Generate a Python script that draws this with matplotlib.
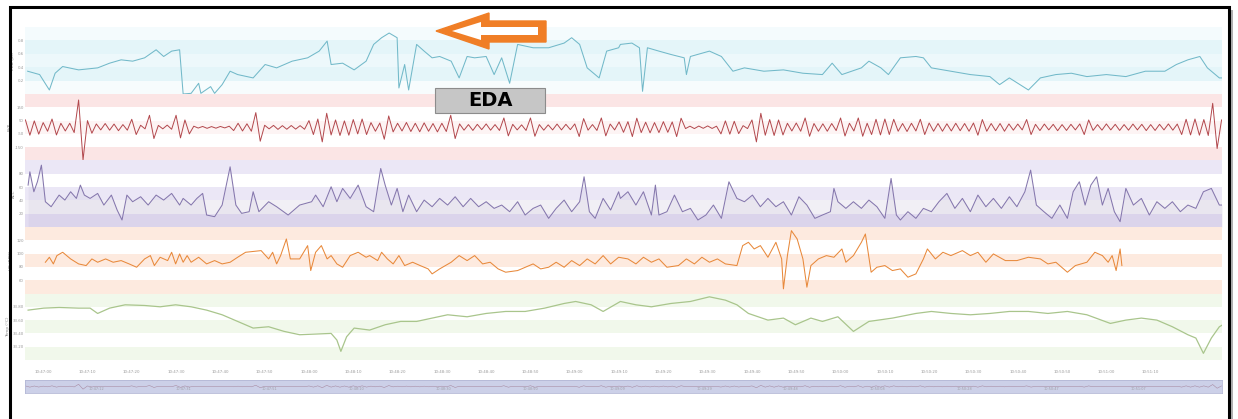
import numpy as np
import matplotlib.pyplot as plt
from matplotlib.patches import Rectangle, Polygon

W, H = 1238, 419

# ---------------- data ----------------
# EDA (uS)
eda_t = [6.5, 9.2, 11.4, 12.7, 14.4, 18.0, 22.3, 25.0, 27.6, 30.2, 32.9, 35.5, 37.2, 39.0, 40.8,
         41.6, 43.4, 45.1, 45.6, 47.8, 48.7, 50.4, 52.2, 53.9, 57.4, 60.1, 62.7, 66.2, 69.7, 72.3,
         74.1, 75.0, 77.6, 80.2, 82.9, 84.6, 86.4, 88.1, 89.9, 90.3, 91.6, 92.5, 94.3, 96.0, 97.8,
         99.5, 102.1, 103.9, 105.7, 107.4, 110.0, 111.8, 113.5, 115.3, 117.1, 120.6, 124.1, 127.6,
         129.3, 131.1, 132.8, 135.5, 137.2, 139.9, 140.3, 142.9, 144.6, 145.3, 146.4, 149.0, 151.7,
         154.7, 155.2, 156.1, 160.4, 163.1, 165.7, 168.3, 172.7, 177.1, 181.5, 185.9, 188.1, 190.3,
         194.7, 196.4, 199.1, 200.8, 203.5, 207.0, 208.7, 210.5, 214.9, 219.3, 223.7, 225.9, 228.1,
         232.4, 235.1, 238.6, 242.1, 245.6, 250.0, 254.4, 258.8, 263.2, 265.8, 268.4, 271.1, 272.8,
         275.5, 276.8]
eda = [0.34, 0.29, 0.06, 0.31, 0.41, 0.36, 0.39, 0.46, 0.51, 0.49, 0.54, 0.66, 0.56, 0.64, 0.66,
       0.0, 0.01, 0.16, 0.01, 0.11, 0.01, 0.14, 0.34, 0.29, 0.24, 0.44, 0.39, 0.49, 0.54, 0.64,
       0.79, 0.44, 0.46, 0.36, 0.49, 0.74, 0.84, 0.91, 0.84, 0.09, 0.44, 0.06, 0.74, 0.64, 0.54,
       0.56, 0.49, 0.24, 0.56, 0.54, 0.56, 0.29, 0.54, 0.16, 0.74, 0.69, 0.69, 0.76,
       0.84, 0.74, 0.39, 0.24, 0.64, 0.69, 0.74, 0.76, 0.69, 0.04, 0.69, 0.64, 0.59,
       0.54, 0.29, 0.56, 0.64, 0.56, 0.34, 0.39, 0.34, 0.36, 0.31, 0.29, 0.46, 0.29,
       0.39, 0.49, 0.39, 0.29, 0.54, 0.56, 0.54, 0.39, 0.34, 0.29, 0.26, 0.14, 0.24,
       0.06, 0.24, 0.29, 0.31, 0.26, 0.29, 0.26, 0.34, 0.34, 0.44, 0.51, 0.56, 0.39,
       0.24, 0.24]

# BVP, one reading per second from t = 6 s
bvp = [55, -60, 48, -52, 35, -30, 62, -58, 30, -28,
       30, -40, 205, -245, 50, -45, 25, -20, 28, -22,
       24, -26, 20, -22, 60, -55, 15, -12, 90, -85,
       14, -12, 16, -15, 90, -80, 55, -50, 8, -6,
       6, -8, 5, -7, 6, -5, 8, -25, 30, -28,
       26, -30, 110, -105, 15, -12, 14, -16, 12, -15,
       13, -14, 12, -15, 50, -55, 62, -110, 105, -58,
       55, -62, 48, -60, 58, -50, 62, -55, 35, -30,
       32, -90, 85, -35, 30, -28, 36, -32, 30, -34,
       33, -30, 28, -35, 30, -32, 90, -85, 25, -22,
       20, -24, 22, -18, 25, -22, 20, -24, 70, -65,
       22, -20, 18, -24, 70, -68, 20, -22, 18, -20,
       24, -20, 22, -18, 25, -70, 65, -22, 20, -24,
       70, -65, 24, -20, 40, -38, 42, -70, 68, -40,
       38, -42, 35, -40, 42, -38, 40, -70, 68, -10,
       8, -10, 9, -8, 10, -9, 8, -50, 48, -52,
       45, -48, 12, -10, 55, -110, 105, -60, 58, -62,
       55, -58, 30, -28, 32, -30, 70, -68, 28, -30,
       26, -30, 28, -25, 70, -66, 30, -28, 70, -68,
       30, -55, 60, -58, 62, -55, 60, -30, 28, -32,
       30, -28, 60, -55, 32, -30, 28, -30, 26, -28,
       30, -26, 28, -30, 32, -60, 58, -30, 28, -26,
       28, -30, 25, -22, 24, -20, 58, -55, 22, -25,
       24, -20, 22, -26, 20, -24, 22, -20, 25, -55,
       55, -24, 20, -22, 25, -20, 22, -24, 20, -22,
       24, -20, 22, -25, 20, -24, 22, -20, 25, -22,
       24, -55, 60, -58, 62, -60, 58, -62, 180, -160,
       55]
bvp_t = np.arange(6, 6 + len(bvp))

# ACC magnitude
acc_t = [6.6, 7.0, 7.9, 8.7, 9.6, 10.5, 11.8, 13.6, 14.9, 16.2, 17.5, 18.4, 19.3, 20.6, 22.3,
         23.7, 25.4, 26.7, 27.8, 28.9, 30.2, 32.0, 33.7, 35.5, 37.2, 39.0, 40.8, 41.6, 43.4, 44.7,
         46.0, 46.9, 48.7, 50.4, 52.2, 53.5, 54.8, 56.5, 57.4, 58.7, 60.9, 62.7, 65.3, 67.9, 70.6,
         71.5, 73.2, 75.0, 76.3, 77.6, 79.3, 81.1, 82.9, 84.6, 86.2, 87.2, 88.6, 89.9, 91.2, 92.5,
         94.3, 96.0, 97.8, 99.5, 101.3, 103.0, 104.8, 106.5, 108.3, 110.0, 111.8, 113.5, 115.3,
         117.1, 118.8, 120.6, 122.3, 124.1, 125.8, 127.6, 129.3, 131.1, 132.1, 133.3, 134.6, 136.4,
         138.1, 139.9, 140.3, 142.0, 143.8, 145.5, 147.3, 148.2, 149.0, 150.8, 152.5, 154.3, 156.1,
         157.8, 159.6, 161.3, 163.1, 164.8, 166.6, 168.3, 170.1, 171.9, 173.6, 175.4, 177.1, 178.9,
         180.6, 182.4, 184.2, 185.9, 187.7, 188.5, 189.4, 191.2, 192.9, 194.7, 196.4, 198.2, 200.0,
         201.4, 202.6, 203.5, 205.2, 207.0, 208.7, 210.5, 212.2, 214.0, 215.8, 217.5, 219.3, 221.0,
         222.8, 224.5, 226.3, 228.1, 229.8, 231.6, 232.9, 234.2, 235.9, 237.7, 239.5, 241.2, 242.5,
         243.9, 245.2, 246.5, 247.8, 249.1, 250.4, 251.8, 253.1, 254.4, 256.1, 257.9, 259.7, 261.4,
         263.2, 264.9, 266.7, 268.4, 270.2, 271.9, 273.7, 275.5, 276.8]
acc = [63, 83, 53, 68, 93, 38, 30.5, 48, 40.5, 53, 43, 63, 48, 43, 50.5,
       33, 48, 25.5, 10.5, 48, 38, 45.5, 33, 48, 40.5, 50.5, 33, 43, 33, 43,
       50.5, 18, 15.5, 33, 90.5, 33, 20.5, 23, 53, 23, 38, 30.5, 18, 33, 38,
       48, 30.5, 60.5, 38, 58, 43, 63, 30.5, 23, 88, 63, 33, 58, 23, 48,
       23, 40.5, 30.5, 43, 33, 45.5, 30.5, 43, 30.5, 38, 28, 33, 23,
       38, 18, 28, 33, 13, 28, 40.5, 23, 38, 75.5, 23, 13, 43,
       25.5, 53, 43, 53, 33, 53, 18, 63, 18, 23, 48, 23, 28,
       10.5, 18, 33, 13, 68, 43, 38, 48, 30.5, 43, 30.5, 38, 18,
       45.5, 33, 13, 18, 23, 58, 38, 28, 38, 28, 40.5, 30.5, 13,
       73, 18, 10.5, 23, 13, 28, 23, 38, 50.5, 28, 43, 23, 48,
       30.5, 43, 28, 45.5, 30.5, 53, 85.5, 33, 23, 13, 33, 13, 53,
       68, 33, 63, 75.5, 33, 58, 23, 8, 58, 33, 43, 18, 38,
       28, 38, 23, 33, 28, 53, 58, 33, 33]

# Heart rate (BPM)
hr_t = [10.5, 11.4, 12.3, 13.1, 14.4, 16.2, 18.0, 19.7, 21.0, 22.3, 24.1, 25.8, 27.6, 29.4, 31.1,
        32.9, 34.2, 35.1, 36.4, 38.1, 39.0, 39.9, 40.8, 41.6, 42.5, 43.4, 45.1, 46.9, 48.7, 50.4,
        52.2, 53.9, 55.7, 59.2, 60.9, 61.8, 62.7, 63.6, 64.9, 65.8, 67.9, 69.7, 70.4, 71.5, 72.8,
        74.1, 75.0, 76.3, 77.6, 79.3, 81.1, 82.9, 83.7, 85.5, 86.4, 87.7, 89.0, 90.3, 91.6, 93.4,
        95.1, 96.9, 97.8, 99.5, 102.1, 103.9, 105.7, 107.4, 109.2, 110.9, 112.7, 114.4, 117.1,
        120.6, 122.3, 124.1, 125.8, 127.6, 129.3, 131.1, 132.8, 134.6, 136.4, 138.1, 139.9,
        142.0, 143.8, 145.5, 147.3, 149.0, 150.8, 153.4, 155.2, 157.0, 158.7, 160.4, 162.2, 164.0,
        166.6, 167.9, 169.2, 170.5, 171.9, 173.6, 175.4, 176.7, 177.1, 178.0, 178.9, 180.2, 181.5,
        182.4, 183.3, 185.0, 186.8, 188.5, 190.3, 191.2, 192.9, 194.7, 195.6, 196.9, 198.2, 200.0,
        201.7, 203.5, 205.2, 207.0, 208.7, 209.6, 211.4, 213.1, 214.9, 217.5, 219.3, 221.0, 222.8,
        224.5, 227.2, 229.8, 232.4, 235.1, 236.8, 238.6, 241.2, 243.0, 245.6, 247.4, 249.1, 250.4,
        251.3, 252.2, 253.1, 253.5]
hr = [87, 94.5, 84.5, 97, 102, 92, 84.5, 82, 92, 87, 92, 87, 89.5, 84.5, 79.5,
      92, 97, 82, 94.5, 89.5, 102, 84.5, 99.5, 87, 97, 87, 94.5, 84.5, 89.5, 84.5,
      87, 94.5, 102, 104.5, 92, 102, 84.5, 97, 122, 92, 92, 112, 74.5, 102, 112,
      92, 97, 84.5, 79.5, 97, 102, 94.5, 97, 89.5, 102, 92, 84.5, 97, 82, 87,
      82, 77, 69.5, 77, 87, 97, 89.5, 97, 84.5, 87, 77, 72, 74.5,
      84.5, 77, 79.5, 87, 79.5, 89.5, 82, 92, 84.5, 97, 84.5, 94.5,
      92, 84.5, 94.5, 87, 92, 79.5, 82, 92, 84.5, 94.5, 87, 92, 84.5,
      82, 112, 117, 107, 112, 94.5, 117, 92, 47, 97, 134.5, 122, 92,
      49.5, 82, 92, 97, 94.5, 107, 87, 97, 117, 129.5, 72, 79.5, 82,
      74.5, 77, 64.5, 69.5, 92, 107, 92, 102, 97, 104.5, 97, 102, 87,
      99.5, 89.5, 89.5, 94.5, 92, 84.5, 87, 72, 82, 87, 102, 97, 87,
      97, 74.5, 107, 82]

# Skin temperature (deg C)
temp_t = [6.6, 10.1, 13.6, 18.0, 20.6, 22.3, 25.0, 28.5, 32.9, 36.4, 39.9, 43.4, 46.9, 50.4, 53.9,
          57.4, 60.9, 64.4, 67.9, 71.5, 75.0, 76.3, 77.2, 78.5, 80.2, 83.7, 87.2, 90.7, 94.3, 97.8,
          101.3, 105.7, 110.0, 114.4, 118.8, 123.2, 127.6, 130.2, 133.7, 136.4, 139.0, 140.3, 143.8,
          147.3, 151.7, 156.1, 160.4, 164.0, 166.6, 169.2, 173.6, 177.1, 179.8, 183.3, 185.9, 189.4,
          192.9, 196.4, 201.7, 207.0, 210.5, 214.9, 219.3, 223.7, 228.1, 232.4, 236.8, 241.2, 245.6,
          250.9, 254.4, 257.9, 261.4, 264.9, 268.4, 270.2, 271.9, 273.7, 275.5, 276.8]
temp = [33.75, 33.78, 33.79, 33.78, 33.78, 33.70, 33.78, 33.83, 33.82, 33.80, 33.83, 33.80, 33.75,
        33.68, 33.58, 33.48, 33.50, 33.43, 33.38, 33.39, 33.40, 33.30, 33.13, 33.35, 33.48, 33.45,
        33.53, 33.58, 33.58, 33.63, 33.68, 33.65, 33.70, 33.73, 33.73, 33.78, 33.85, 33.88, 33.83,
        33.73, 33.83, 33.88, 33.83, 33.80, 33.85, 33.88, 33.95, 33.90, 33.83, 33.70, 33.60, 33.63,
        33.53, 33.63, 33.58, 33.65, 33.43, 33.58, 33.63, 33.70, 33.73, 33.70, 33.68, 33.70, 33.73,
        33.73, 33.70, 33.73, 33.68, 33.55, 33.60, 33.63, 33.60, 33.50, 33.38, 33.33, 33.10, 33.33,
        33.50, 33.55]

tick_t = np.arange(10, 261, 10)
start_s = 10 * 3600 + 46 * 60 + 50


def clock(t):
    s = start_s + int(t)
    return f"{s // 3600:02d}:{s // 60 % 60:02d}:{s % 60:02d}"


# ---------------- figure ----------------
fig = plt.figure(figsize=(W / 100, H / 100), dpi=100)
fig.patch.set_facecolor('white')

L, R = 25, 1222
XLIM = (5.9, 276.1)
TICK_KW = dict(labelsize=2.8, labelcolor='#9a9a9a', length=0, pad=1)


def px(x, y):
    return x / W, 1 - y / H


def panel(top, bottom, ylim, bands, color, t, y, ylabel, fmt, lw=0.75):
    ax = fig.add_axes([L / W, 1 - bottom / H, (R - L) / W, (bottom - top) / H])
    edges = np.linspace(ylim[0], ylim[1], 6)
    for i, c in enumerate(bands):  # bands listed top to bottom
        if c:
            ax.axhspan(edges[4 - i], edges[5 - i], color=c, lw=0, zorder=0)
    ax.plot(t, y, color=color, lw=lw, zorder=3, solid_joinstyle='round')
    ax.set_xlim(*XLIM)
    ax.set_ylim(*ylim)
    for s in ax.spines.values():
        s.set_visible(False)
    ax.set_xticks([])
    ax.set_yticks(edges[1:5])
    ax.set_yticklabels([fmt.format(v) for v in edges[1:5]])
    ax.tick_params(axis='y', **TICK_KW)
    ax.set_ylabel(ylabel, fontsize=3, color='#888888', labelpad=2)
    return ax


ax1 = panel(27, 94, (0.0, 1.0), ['#f4fbfd', '#e4f5f9', '#edf8fb', '#e4f5f9', '#f7fcfd'],
            '#72b9c9', eda_t, eda, 'EDA (µS)', '{:.1f}')
ax2 = panel(94, 160.5, (-250, 250), ['#fbe5e5', None, '#fdf4f4', None, '#fbe5e5'],
            '#b2474c', bvp_t, bvp, 'BVP', '{:.0f}', lw=0.7)
ax3 = panel(160.5, 227, (0, 100), ['#ebe7f6', None, '#ebe7f6', '#f1eff5', '#e2dcf0'],
            '#8577ad', acc_t, acc, 'ACC', '{:.0f}')
ax3.fill_between(acc_t, acc, 0, color='#8577ad', alpha=0.07, lw=0, zorder=2)
ax4 = panel(227, 293.5, (40, 140), ['#fdeadf', None, '#fdeadf', None, '#fdeadf'],
            '#e8893b', hr_t, hr, 'HR (BPM)', '{:.0f}')
ax5 = panel(293.5, 360, (33.0, 34.0), ['#f1f8eb', None, '#f1f8eb', None, '#f1f8eb'],
            '#a9c58c', temp_t, temp, 'Temp (°C)', '{:.2f}', lw=0.9)
ax5.set_xticks(tick_t)
ax5.set_xticklabels([clock(t) for t in tick_t])
ax5.tick_params(axis='x', labelsize=2.8, labelcolor='#9a9a9a', length=0, pad=7)

# navigator strip
nav = fig.add_axes([L / W, 1 - 393 / H, (R - L) / W, 13 / H])
nav.set_facecolor('#ccd0e8')
nav.plot(bvp_t, bvp, color='#9a6f86', lw=0.35, alpha=0.8)
nav.set_xlim(*XLIM)
nav.set_ylim(-600, 600)
for s in nav.spines.values():
    s.set_color('#b4b8d6')
    s.set_linewidth(0.6)
nav.set_yticks([])
nav_t = np.arange(22, 270, 19.6)
nav.set_xticks(nav_t)
nav.set_xticklabels([clock(t) for t in nav_t])
nav.tick_params(axis='x', labelsize=2.5, labelcolor='#a0a0a8', length=0, pad=-4)

# orange outlined arrow pointing left
outer = [px(436, 31), px(489, 13), px(489, 21), px(546, 21), px(546, 42), px(489, 42), px(489, 49)]
inner = [px(452, 31), px(481, 22), px(481, 27), px(538, 27), px(538, 35), px(481, 35), px(481, 40)]
fig.add_artist(Polygon(outer, closed=True, transform=fig.transFigure, fc='#f07e26', ec='#f07e26', lw=1))
fig.add_artist(Polygon(inner, closed=True, transform=fig.transFigure, fc='white', ec='none'))

# EDA label box
bx, by = px(435, 113)
fig.add_artist(Rectangle((bx, by), 110 / W, 25 / H, transform=fig.transFigure,
                         fc='#c6c6c6', ec='#8c8c8c', lw=0.8, zorder=10))
fig.text(490 / W, 1 - 100.5 / H, 'EDA', ha='center', va='center', fontsize=14,
         fontweight='bold', color='black', zorder=11)

# outer frame with slight shadow
fig.add_artist(Rectangle((1231 / W, -0.05), 2 / W, 1 - 10 / H + 0.05, transform=fig.transFigure,
                         fc='#b0b0b0', ec='none'))
fig.add_artist(Rectangle(px(9.5, 425), 1219 / W, 418 / H, transform=fig.transFigure,
                         fill=False, ec='black', lw=2.2))

fig.savefig('out.png', dpi=100, facecolor='white')
